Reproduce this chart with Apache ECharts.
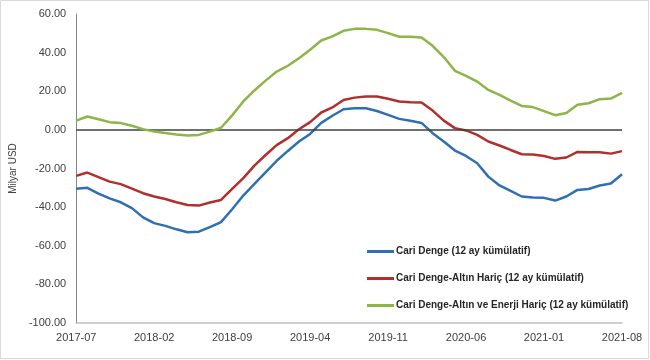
<!DOCTYPE html>
<html>
<head>
<meta charset="utf-8">
<script src="https://cdn.jsdelivr.net/npm/echarts@6/dist/echarts.min.js"></script>
<style>html,body{margin:0;padding:0;background:#fff;}#c{width:650px;height:360px;}</style>
</head>
<body>
<div id="c"></div>
<script>
const months = ["2017-07","2017-08","2017-09","2017-10","2017-11","2017-12",
"2018-01","2018-02","2018-03","2018-04","2018-05","2018-06","2018-07","2018-08",
"2018-09","2018-10","2018-11","2018-12","2019-01","2019-02","2019-03",
"2019-04","2019-05","2019-06","2019-07","2019-08","2019-09","2019-10",
"2019-11","2019-12","2020-01","2020-02","2020-03","2020-04","2020-05",
"2020-06","2020-07","2020-08","2020-09","2020-10","2020-11","2020-12",
"2021-01","2021-02","2021-03","2021-04","2021-05","2021-06","2021-07","2021-08"];

const seriesNames = ["Cari Denge (12 ay kümülatif)",
  "Cari Denge-Altın Hariç (12 ay kümülatif)",
  "Cari Denge-Altın ve Enerji Hariç (12 ay kümülatif)"];

const cariDenge = [-30.5,-30.0,-33.0,-35.5,-37.5,-40.5,-45.3,-48.3,-49.7,-51.5,-53.0,-52.7,-50.4,-47.8,
  -41.1,-34.0,-28.0,-22.0,-16.0,-10.9,-6.0,-2.1,3.6,7.3,10.7,11.2,11.2,9.8,7.8,5.7,4.7,3.6,
  -1.7,-6.0,-10.7,-13.5,-17.3,-24.2,-28.8,-31.6,-34.5,-35.0,-35.2,-36.6,-34.5,-31.1,-30.6,-28.8,-27.8,-23.0];

const altinHaric = [-23.8,-22.1,-24.5,-26.8,-28.1,-30.4,-32.8,-34.5,-35.8,-37.5,-38.9,-39.2,-37.6,-36.3,
  -30.6,-25.0,-18.5,-13.0,-7.9,-4.3,0.3,4.0,9.0,11.6,15.5,16.7,17.3,17.3,16.1,14.7,14.3,14.2,
  10.0,4.8,0.9,-0.3,-2.6,-6.0,-8.1,-10.4,-12.6,-12.8,-13.5,-15.0,-14.3,-11.4,-11.6,-11.6,-12.3,-11.0];

const altinEnerjiHaric = [4.8,6.9,5.5,4.0,3.5,2.1,0.4,-0.9,-1.6,-2.4,-2.9,-2.6,-0.9,1.1,
  7.5,14.7,20.4,25.5,30.2,33.2,37.1,41.5,46.3,48.4,51.3,52.3,52.3,51.8,50.1,48.2,48.2,47.8,
  43.5,37.7,30.6,28.0,25.0,20.7,18.1,15.2,12.4,11.8,9.7,7.6,8.7,13.0,13.8,15.9,16.2,19.2];

const colors = ["#2f6fb2", "#b0302d", "#8db548"];
const FONT = "'Liberation Sans', Arial, sans-serif";

const chart = echarts.init(document.getElementById('c'), null, {renderer: 'canvas'});

function mkSeries(name, data, color, idx) {
  const s = {
    name: name, type: 'line', data: data, symbol: 'none', smooth: false,
    lineStyle: {color: color, width: 2.5}, itemStyle: {color: color},
    z: 3 + idx, animation: false
  };
  if (idx === 0) {
    s.markLine = {
      silent: true, symbol: 'none', animation: false,
      label: {show: false},
      lineStyle: {color: '#404040', width: 1.5, type: 'solid'},
      data: [{yAxis: 0}]
    };
  }
  return s;
}

chart.setOption({
  animation: false,
  backgroundColor: '#ffffff',
  textStyle: {fontFamily: FONT},
  grid: {left: 54, right: 28, top: 14, bottom: 37, containLabel: false},
  graphic: [{
    type: 'rect', silent: true, z: -10,
    shape: {x: 0.5, y: 0.5, width: 648, height: 358},
    style: {fill: 'none', stroke: '#d9d9d9', lineWidth: 1}
  }],
  legend: {
    orient: 'vertical', left: 362, top: 240,
    itemWidth: 27, itemHeight: 3, itemGap: 14,
    icon: 'rect',
    data: seriesNames,
    textStyle: {fontFamily: FONT, fontSize: 10, fontWeight: 'bold', color: '#262626', padding: [0,0,0,-3], lineHeight: 13}
  },
  xAxis: {
    type: 'category', data: months, boundaryGap: false,
    axisLine: {onZero: false, lineStyle: {color: '#bfbfbf', width: 1.5}},
    axisTick: {show: false},
    axisLabel: {interval: 6, color: '#404040', fontSize: 11, margin: 9, fontFamily: FONT},
    splitLine: {show: false}
  },
  yAxis: {
    type: 'value', min: -100, max: 60, interval: 20,
    name: 'Milyar USD', nameLocation: 'middle', nameGap: 40, nameRotate: 90,
    nameTextStyle: {color: '#404040', fontSize: 10, fontFamily: FONT},
    axisLine: {show: true, lineStyle: {color: '#868686', width: 1}},
    axisTick: {show: false},
    axisLabel: {color: '#404040', fontSize: 11, margin: 10, fontFamily: FONT,
      formatter: v => v.toFixed(2)},
    splitLine: {show: false}
  },
  series: [
    mkSeries(seriesNames[0], cariDenge, colors[0], 0),
    mkSeries(seriesNames[1], altinHaric, colors[1], 1),
    mkSeries(seriesNames[2], altinEnerjiHaric, colors[2], 2)
  ]
});
</script>
</body>
</html>
